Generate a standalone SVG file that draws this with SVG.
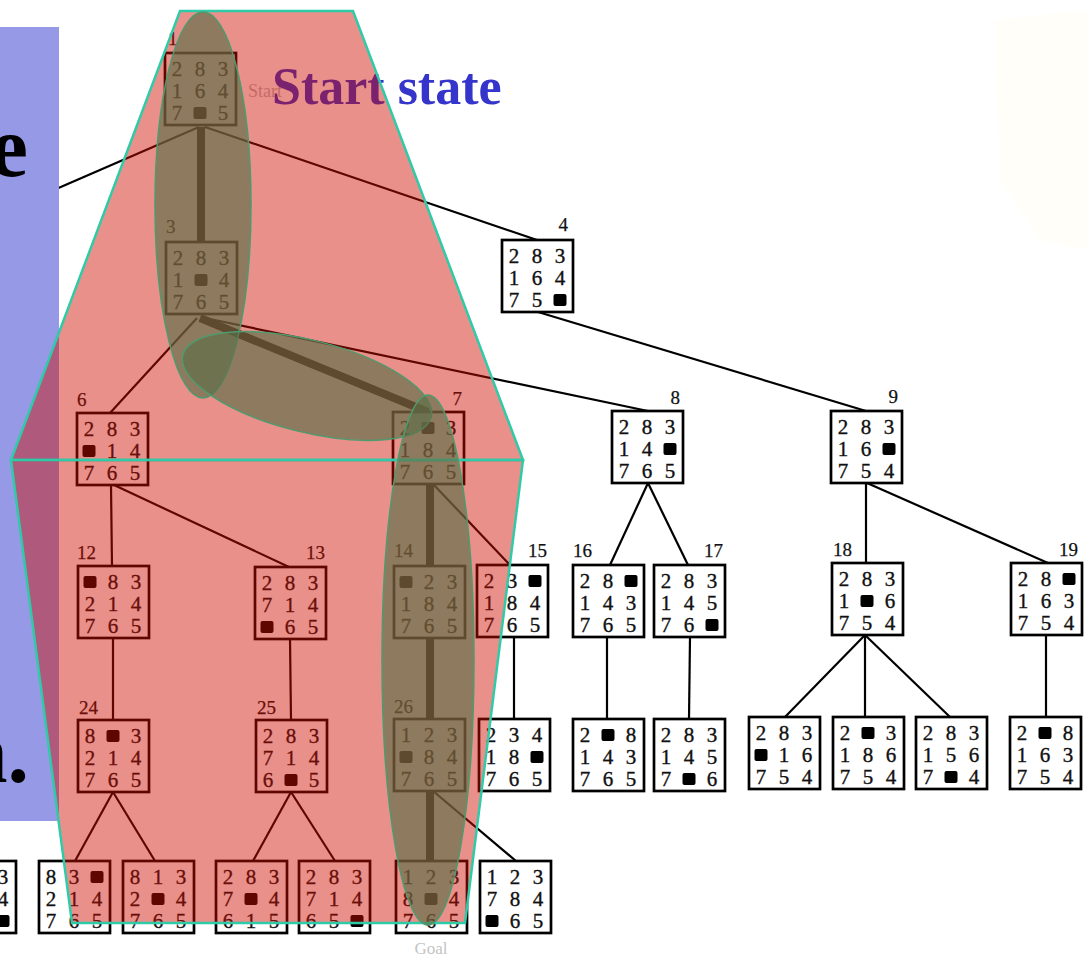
<svg xmlns="http://www.w3.org/2000/svg" xmlns:xlink="http://www.w3.org/1999/xlink" width="1087" height="959" viewBox="0 0 1087 959">
<style>
.bx{fill:#fff;stroke:#000;stroke-width:2.7}
.d{font-family:"Liberation Serif","DejaVu Serif",serif;font-size:21px;fill:#111;stroke:#111;stroke-width:0.35;text-anchor:middle}
.lb{font-family:"Liberation Serif","DejaVu Serif",serif;font-size:19px;fill:#111;stroke:#111;stroke-width:0.25}
.le{text-anchor:end}
.e{stroke:#000;stroke-width:2.2;fill:none}
.th{stroke:#000;stroke-width:8;fill:none}
.big{font-family:"Liberation Serif","Times New Roman",serif;font-weight:bold}
.ov{fill:rgb(207,13,0);fill-opacity:0.46;stroke:#2fcba8;stroke-width:2.5}
.el{fill:rgb(93,111,70);fill-opacity:0.65;stroke:#4f9a6e;stroke-width:1.5}
</style>
<defs>
<rect id="b" width="13" height="12" rx="2" fill="#000"/>
<rect id="box" class="bx" width="71" height="72"/>
</defs>
<rect width="1087" height="959" fill="#fff"/>
<path d="M995,20 L1087,10 L1087,250 L1040,240 L1000,180 Z" fill="#fffef8"/>

<g id="connectors">
<line class="e" x1="199" y1="127" x2="40" y2="196"/>
<line class="th" x1="201" y1="127" x2="201" y2="242"/>
<line class="e" x1="205" y1="127" x2="537" y2="240"/>
<line class="e" x1="197" y1="318" x2="110" y2="413"/>
<line class="th" x1="200" y1="318" x2="428" y2="412"/>
<line class="e" x1="205" y1="318" x2="648" y2="411"/>
<line class="e" x1="538" y1="312" x2="866" y2="411"/>
<line class="e" x1="111" y1="485" x2="112" y2="566"/>
<line class="e" x1="114" y1="485" x2="289" y2="567"/>
<line class="th" x1="430" y1="484" x2="430" y2="566"/>
<line class="e" x1="433" y1="484" x2="510" y2="565"/>
<line class="e" x1="648" y1="483" x2="610" y2="565"/>
<line class="e" x1="648" y1="483" x2="688" y2="565"/>
<line class="e" x1="866" y1="483" x2="866" y2="563"/>
<line class="e" x1="867" y1="483" x2="1048" y2="563"/>
<line class="e" x1="113" y1="638" x2="113" y2="720"/>
<line class="e" x1="290" y1="639" x2="291" y2="720"/>
<line class="th" x1="430" y1="638" x2="430" y2="719"/>
<line class="e" x1="514" y1="637" x2="514" y2="719"/>
<line class="e" x1="607" y1="637" x2="607" y2="719"/>
<line class="e" x1="690" y1="637" x2="689" y2="719"/>
<line class="e" x1="865" y1="635" x2="785" y2="717"/>
<line class="e" x1="865" y1="635" x2="865" y2="717"/>
<line class="e" x1="865" y1="635" x2="950" y2="717"/>
<line class="e" x1="1046" y1="635" x2="1046" y2="717"/>
<line class="e" x1="113" y1="792" x2="75" y2="861"/>
<line class="e" x1="113" y1="792" x2="155" y2="861"/>
<line class="e" x1="291" y1="792" x2="253" y2="861"/>
<line class="e" x1="291" y1="792" x2="335" y2="861"/>
<line class="th" x1="430" y1="791" x2="430" y2="861"/>
<line class="e" x1="433" y1="791" x2="516" y2="861"/>
</g>

<g id="n1" transform="translate(165,53)"><use href="#box"/><text class="lb" x="3" y="-8">1</text>
<text class="d" x="12 35 58" y="23">283</text><text class="d" x="12 35 58" y="45">164</text><text class="d" x="12 58" y="67">75</text><use href="#b" x="28.5" y="54"/></g>
<text x="248" y="97" font-family="Liberation Serif,serif" font-size="18" fill="#bbb">Start</text>

<g id="n3" transform="translate(166,242)"><use href="#box"/><text class="lb" x="0" y="-9">3</text>
<text class="d" x="12 35 58" y="23">283</text><text class="d" x="12 58" y="45">14</text><use href="#b" x="28.5" y="32"/><text class="d" x="12 35 58" y="67">765</text></g>

<g id="n4" transform="translate(502,240)"><use href="#box"/><text class="lb le" x="66" y="-9">4</text>
<text class="d" x="12 35 58" y="23">283</text><text class="d" x="12 35 58" y="45">164</text><text class="d" x="12 35" y="67">75</text><use href="#b" x="51.5" y="54"/></g>

<g id="n6" transform="translate(77,413)"><use href="#box"/><text class="lb" x="0" y="-7">6</text>
<text class="d" x="12 35 58" y="23">283</text><use href="#b" x="5.5" y="32"/><text class="d" x="35 58" y="45">14</text><text class="d" x="12 35 58" y="67">765</text></g>

<g id="n7" transform="translate(393,412)"><use href="#box"/><text class="lb le" x="69" y="-7">7</text>
<text class="d" x="12 58" y="23">23</text><use href="#b" x="28.5" y="10"/><text class="d" x="12 35 58" y="45">184</text><text class="d" x="12 35 58" y="67">765</text></g>

<g id="n8" transform="translate(612,411)"><use href="#box"/><text class="lb le" x="68" y="-7">8</text>
<text class="d" x="12 35 58" y="23">283</text><text class="d" x="12 35" y="45">14</text><use href="#b" x="51.5" y="32"/><text class="d" x="12 35 58" y="67">765</text></g>

<g id="n9" transform="translate(831,411)"><use href="#box"/><text class="lb le" x="67" y="-8">9</text>
<text class="d" x="12 35 58" y="23">283</text><text class="d" x="12 35" y="45">16</text><use href="#b" x="51.5" y="32"/><text class="d" x="12 35 58" y="67">754</text></g>

<g id="n12" transform="translate(78,566)"><use href="#box"/><text class="lb" x="-1" y="-7">12</text>
<use href="#b" x="5.5" y="10"/><text class="d" x="35 58" y="23">83</text><text class="d" x="12 35 58" y="45">214</text><text class="d" x="12 35 58" y="67">765</text></g>

<g id="n13" transform="translate(255,567)"><use href="#box"/><text class="lb le" x="70" y="-8">13</text>
<text class="d" x="12 35 58" y="23">283</text><text class="d" x="12 35 58" y="45">714</text><use href="#b" x="5.5" y="54"/><text class="d" x="35 58" y="67">65</text></g>

<g id="n14" transform="translate(394,566)"><use href="#box"/><text class="lb" x="0" y="-9">14</text>
<use href="#b" x="5.5" y="10"/><text class="d" x="35 58" y="23">23</text><text class="d" x="12 35 58" y="45">184</text><text class="d" x="12 35 58" y="67">765</text></g>

<g id="n15" transform="translate(477,565)"><use href="#box"/><text class="lb le" x="70" y="-8">15</text>
<text class="d" x="12 35" y="23">23</text><use href="#b" x="51.5" y="10"/><text class="d" x="12 35 58" y="45">184</text><text class="d" x="12 35 58" y="67">765</text></g>

<g id="n16" transform="translate(573,565)"><use href="#box"/><text class="lb" x="0" y="-8">16</text>
<text class="d" x="12 35" y="23">28</text><use href="#b" x="51.5" y="10"/><text class="d" x="12 35 58" y="45">143</text><text class="d" x="12 35 58" y="67">765</text></g>

<g id="n17" transform="translate(654,565)"><use href="#box"/><text class="lb le" x="69" y="-8">17</text>
<text class="d" x="12 35 58" y="23">283</text><text class="d" x="12 35 58" y="45">145</text><text class="d" x="12 35" y="67">76</text><use href="#b" x="51.5" y="54"/></g>

<g id="n18" transform="translate(832,563)"><use href="#box"/><text class="lb" x="1" y="-7">18</text>
<text class="d" x="12 35 58" y="23">283</text><text class="d" x="12 58" y="45">16</text><use href="#b" x="28.5" y="32"/><text class="d" x="12 35 58" y="67">754</text></g>

<g id="n19" transform="translate(1011,563)"><use href="#box"/><text class="lb le" x="67" y="-7">19</text>
<text class="d" x="12 35" y="23">28</text><use href="#b" x="51.5" y="10"/><text class="d" x="12 35 58" y="45">163</text><text class="d" x="12 35 58" y="67">754</text></g>

<g id="n24" transform="translate(78,720)"><use href="#box"/><text class="lb" x="1" y="-6">24</text>
<text class="d" x="12 58" y="23">83</text><use href="#b" x="28.5" y="10"/><text class="d" x="12 35 58" y="45">214</text><text class="d" x="12 35 58" y="67">765</text></g>

<g id="n25" transform="translate(256,720)"><use href="#box"/><text class="lb" x="1" y="-6">25</text>
<text class="d" x="12 35 58" y="23">283</text><text class="d" x="12 35 58" y="45">714</text><text class="d" x="12 58" y="67">65</text><use href="#b" x="28.5" y="54"/></g>

<g id="n26" transform="translate(394,719)"><use href="#box"/><text class="lb" x="0" y="-6">26</text>
<text class="d" x="12 35 58" y="23">123</text><use href="#b" x="5.5" y="32"/><text class="d" x="35 58" y="45">84</text><text class="d" x="12 35 58" y="67">765</text></g>

<g id="n15c" transform="translate(479,719)"><use href="#box"/>
<text class="d" x="12 35 58" y="23">234</text><text class="d" x="12 35" y="45">18</text><use href="#b" x="51.5" y="32"/><text class="d" x="12 35 58" y="67">765</text></g>

<g id="n16c" transform="translate(573,719)"><use href="#box"/>
<text class="d" x="12 58" y="23">28</text><use href="#b" x="28.5" y="10"/><text class="d" x="12 35 58" y="45">143</text><text class="d" x="12 35 58" y="67">765</text></g>

<g id="n17c" transform="translate(654,719)"><use href="#box"/>
<text class="d" x="12 35 58" y="23">283</text><text class="d" x="12 35 58" y="45">145</text><text class="d" x="12 58" y="67">76</text><use href="#b" x="28.5" y="54"/></g>

<g id="n18a" transform="translate(749,717)"><use href="#box"/>
<text class="d" x="12 35 58" y="23">283</text><use href="#b" x="5.5" y="32"/><text class="d" x="35 58" y="45">16</text><text class="d" x="12 35 58" y="67">754</text></g>

<g id="n18b" transform="translate(833,717)"><use href="#box"/>
<text class="d" x="12 58" y="23">23</text><use href="#b" x="28.5" y="10"/><text class="d" x="12 35 58" y="45">186</text><text class="d" x="12 35 58" y="67">754</text></g>

<g id="n18c" transform="translate(916,717)"><use href="#box"/>
<text class="d" x="12 35 58" y="23">283</text><text class="d" x="12 35 58" y="45">156</text><text class="d" x="12 58" y="67">74</text><use href="#b" x="28.5" y="54"/></g>

<g id="n19c" transform="translate(1010,717)"><use href="#box"/>
<text class="d" x="12 58" y="23">28</text><use href="#b" x="28.5" y="10"/><text class="d" x="12 35 58" y="45">163</text><text class="d" x="12 35 58" y="67">754</text></g>

<g id="n24a" transform="translate(39,861)"><use href="#box"/>
<text class="d" x="12 35" y="23">83</text><use href="#b" x="51.5" y="10"/><text class="d" x="12 35 58" y="45">214</text><text class="d" x="12 35 58" y="67">765</text></g>

<g id="n24b" transform="translate(123,861)"><use href="#box"/>
<text class="d" x="12 35 58" y="23">813</text><text class="d" x="12 58" y="45">24</text><use href="#b" x="28.5" y="32"/><text class="d" x="12 35 58" y="67">765</text></g>

<g id="n25a" transform="translate(216,861)"><use href="#box"/>
<text class="d" x="12 35 58" y="23">283</text><text class="d" x="12 58" y="45">74</text><use href="#b" x="28.5" y="32"/><text class="d" x="12 35 58" y="67">615</text></g>

<g id="n25b" transform="translate(299,861)"><use href="#box"/>
<text class="d" x="12 35 58" y="23">283</text><text class="d" x="12 35 58" y="45">714</text><text class="d" x="12 35" y="67">65</text><use href="#b" x="51.5" y="54"/></g>

<g id="goal" transform="translate(396,861)"><use href="#box"/>
<text class="d" x="12 35 58" y="23">123</text><text class="d" x="12 58" y="45">84</text><use href="#b" x="28.5" y="32"/><text class="d" x="12 35 58" y="67">765</text>
<text x="35" y="93" font-family="Liberation Serif,serif" font-size="17" fill="#c4c4c4" text-anchor="middle">Goal</text></g>

<g id="n26b" transform="translate(480,861)"><use href="#box"/>
<text class="d" x="12 35 58" y="23">123</text><text class="d" x="12 35 58" y="45">784</text><use href="#b" x="5.5" y="54"/><text class="d" x="35 58" y="67">65</text></g>

<g id="nleft" transform="translate(-55,861)"><use href="#box"/>
<text class="d" x="58" y="23">3</text><text class="d" x="58" y="45">4</text><use href="#b" x="51.5" y="54"/></g>

<g id="panel">
<rect x="0" y="27" width="59" height="794" fill="#9599e6"/>
<text class="big" x="28" y="176" font-size="86" text-anchor="end" fill="#000">e</text>
<text class="big" x="29" y="782" font-size="86" text-anchor="end" fill="#000">n.</text>
</g>

<text class="big" x="272" y="104" font-size="52" fill="#3535cc">Start state</text>

<g id="overlay">
<polygon class="ov" points="180,11 353,11 523,460 11,460"/>
<polygon class="ov" points="11,460 523,460 465,923 72,923"/>
<ellipse class="el" cx="203" cy="205" rx="48" ry="193"/>
<ellipse class="el" cx="307" cy="386" rx="128" ry="46" transform="rotate(14 307 386)"/>
<ellipse class="el" cx="428" cy="660" rx="46" ry="265"/>
</g>
</svg>
